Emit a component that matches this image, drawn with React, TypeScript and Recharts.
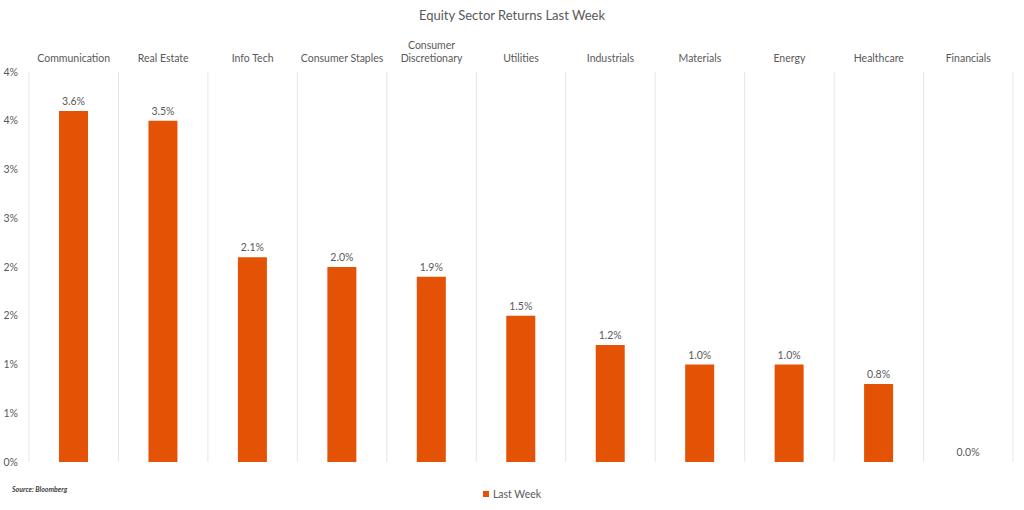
import React from 'react';
import { Bar, BarChart, CartesianGrid, LabelList, XAxis, YAxis } from 'recharts';

const sectors = ['Communication', 'Real Estate', 'Info Tech', 'Consumer Staples', 'Consumer Discretionary', 'Utilities', 'Industrials', 'Materials', 'Energy', 'Healthcare', 'Financials'];
const lastWeek = [3.6, 3.5, 2.1, 2.0, 1.9, 1.5, 1.2, 1.0, 1.0, 0.8, 0.0];
const yTicks = [0, 0.5, 1, 1.5, 2, 2.5, 3, 3.5, 4];

const data = sectors.map((name, i) => ({ name, value: lastWeek[i] }));

const FONT = 'Lato, "Open Sans", sans-serif';
const TEXT = '#595959';
const ORANGE = '#E35205';

function SectorTick({ x, y, payload }: any) {
  const label: string = payload.value;
  const lines = label.length > 18 ? [label.slice(0, label.indexOf(' ')), label.slice(label.indexOf(' ') + 1)] : [label];
  const base = y - 8;
  return (
    <text x={x} y={base} textAnchor="middle" fontSize={10.5} fill={TEXT} fontFamily={FONT}>
      {lines.map((l, i) => (
        <tspan key={i} x={x} y={base - (lines.length - 1 - i) * 13}>{l}</tspan>
      ))}
    </text>
  );
}

function ValueLabel({ x, y, width, value }: any) {
  return (
    <text x={Number(x) + Number(width) / 2} y={Number(y) - 6} textAnchor="middle" fontSize={10.5} fill={TEXT} fontFamily={FONT}>
      {`${Number(value).toFixed(1)}%`}
    </text>
  );
}

// grid lines on category boundaries, not centers
function boundaries({ offset }: any) {
  const step = offset.width / sectors.length;
  return Array.from({ length: sectors.length + 1 }, (_, i) => offset.left + i * step);
}

export default function App() {
  return (
    <div style={{ position: 'absolute', left: 0, top: 0, width: 1024, height: 510, background: '#fff' }}>
      <div style={{ position: 'absolute', top: 7, width: 1024, textAlign: 'center', fontFamily: FONT, fontSize: 13, color: TEXT }}>
        Equity Sector Returns Last Week
      </div>
      <div style={{ position: 'absolute', left: 12, top: 485, fontFamily: FONT, fontSize: 7, fontStyle: 'italic', fontWeight: 'bold', color: '#404040' }}>
        Source: Bloomberg
      </div>
      <div style={{ position: 'absolute', top: 488, width: 1024, display: 'flex', justifyContent: 'center', alignItems: 'center', fontFamily: FONT, fontSize: 10.5, color: TEXT }}>
        <span style={{ width: 6, height: 6, background: ORANGE, display: 'inline-block', marginRight: 4 }} />
        Last Week
      </div>
      <BarChart width={1024} height={510} data={data} margin={{ top: 32, right: 11, bottom: 48, left: 0 }} barSize={29}>
        <CartesianGrid horizontal={false} stroke="#E6E6E6" verticalCoordinatesGenerator={boundaries} />
        <XAxis dataKey="name" orientation="top" height={40} axisLine={false} tickLine={false} tickSize={0} tick={<SectorTick />} interval={0} />
        <XAxis xAxisId="base" orientation="bottom" height={0} axisLine={{ stroke: '#E6E6E6' }} tick={false} tickLine={false} />
        <YAxis domain={[0, 4]} ticks={yTicks} width={29} axisLine={false} tickLine={false} tickSize={0} tickMargin={11}
          tickFormatter={(v: number) => `${Math.round(v)}%`} tick={{ fontSize: 10.5, fill: TEXT, fontFamily: FONT }} />
        <Bar dataKey="value" fill={ORANGE} minPointSize={0.01} isAnimationActive={false}>
          <LabelList dataKey="value" content={<ValueLabel />} />
        </Bar>
      </BarChart>
    </div>
  );
}
